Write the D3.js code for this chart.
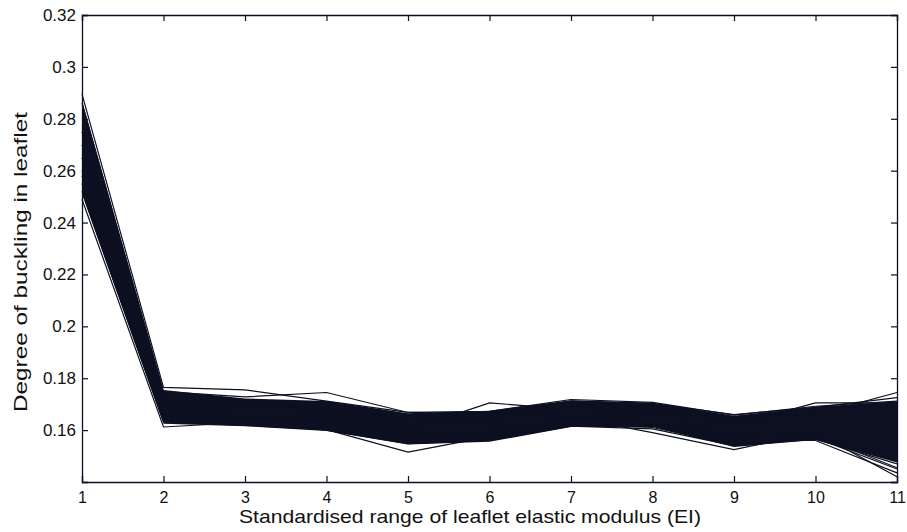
<!DOCTYPE html>
<html>
<head>
<meta charset="utf-8">
<script src="https://cdn.jsdelivr.net/npm/d3@7"></script>
<style>
  body { margin: 0; background: #fff; }
  text { font-family: "Liberation Sans", Arial, sans-serif; fill: #111; }
</style>
</head>
<body>
<div id="chart"></div>
<script>
// x positions (standardised EI range)
var xValues = [1, 2, 3, 4, 5, 6, 7, 8, 9, 10, 11]
var yTicks = [0.14, 0.16, 0.18, 0.2, 0.22, 0.24, 0.26, 0.28, 0.3, 0.32]

// dense core of the runs (upper / lower envelope)
var coreUpper = [0.287, 0.1755, 0.1722, 0.1712, 0.1665, 0.1675, 0.1715, 0.1705, 0.1655, 0.169, 0.171]
var coreLower = [0.251, 0.1625, 0.1615, 0.1597, 0.1545, 0.1555, 0.1612, 0.1612, 0.1535, 0.1562, 0.1475]

// individual runs visible at the edges of the band
var runA = [0.2895, 0.1765, 0.1755, 0.1712, 0.1668, 0.1672, 0.1718, 0.1707, 0.1658, 0.1692, 0.1712]
var runB = [0.2860, 0.1748, 0.1728, 0.1745, 0.1668, 0.1662, 0.1712, 0.1702, 0.1660, 0.1688, 0.1725]
var runC = [0.2490, 0.1612, 0.1630, 0.1600, 0.1548, 0.1560, 0.1615, 0.1605, 0.1540, 0.1565, 0.1470]
var runD = [0.2520, 0.1632, 0.1618, 0.1602, 0.1515, 0.1575, 0.1620, 0.1610, 0.1545, 0.1570, 0.1450]
var runE = [0.2650, 0.1700, 0.1690, 0.1665, 0.1600, 0.1705, 0.1680, 0.1662, 0.1580, 0.1620, 0.1560]
var runF = [0.2600, 0.1680, 0.1660, 0.1640, 0.1590, 0.1600, 0.1650, 0.1590, 0.1525, 0.1590, 0.1420]
var runG = [0.2700, 0.1720, 0.1700, 0.1680, 0.1620, 0.1640, 0.1690, 0.1680, 0.1620, 0.1705, 0.1705]
var runH = [0.2550, 0.1650, 0.1640, 0.1620, 0.1560, 0.1580, 0.1630, 0.1620, 0.1560, 0.1560, 0.1435]
var runI = [0.2750, 0.1710, 0.1700, 0.1690, 0.1640, 0.1650, 0.1700, 0.1690, 0.1640, 0.1660, 0.1745]
var runJ = [0.2580, 0.1660, 0.1650, 0.1630, 0.1570, 0.1590, 0.1640, 0.1630, 0.1570, 0.1580, 0.1455]
var runs = [runA, runB, runC, runD, runE, runF, runG, runH, runI, runJ]

var xLabel = "Standardised range of leaflet elastic modulus (EI)"
var yLabel = "Degree of buckling in leaflet"

var width = 907, height = 532
var margin = {top: 15, right: 10, bottom: 50, left: 82}

var svg = d3.select("#chart").append("svg")
  .attr("width", width)
  .attr("height", height)

var x = d3.scaleLinear().domain([1, 11]).range([margin.left, width - margin.right])
var y = d3.scaleLinear().domain([0.14, 0.32]).range([height - margin.bottom, margin.top])

var ink = "#0c1020"

// core band
var area = d3.area()
  .x(function(d, i) { return x(xValues[i]) })
  .y0(function(d, i) { return y(coreLower[i]) })
  .y1(function(d) { return y(d) })
svg.append("path")
  .datum(coreUpper)
  .attr("d", area)
  .attr("fill", ink)

var line = d3.line()
  .x(function(d, i) { return x(xValues[i]) })
  .y(function(d) { return y(d) })

svg.selectAll(".run")
  .data(runs)
  .enter()
  .append("path")
  .attr("class", "run")
  .attr("d", line)
  .attr("fill", "none")
  .attr("stroke", ink)
  .attr("stroke-width", 1.2)

// axes, MATLAB style box with inward ticks
var fmt = function(d) { return d == 0.14 ? "" : String(+d.toFixed(2)) }

svg.append("g")
  .attr("transform", "translate(0," + y(0.14) + ")")
  .call(d3.axisBottom(x).tickValues(xValues).tickSize(-6).tickPadding(10))
  .selectAll("text").attr("font-size", 16)
svg.append("g")
  .attr("transform", "translate(0," + y(0.32) + ")")
  .call(d3.axisTop(x).tickValues(xValues).tickSize(-6).tickFormat(""))
svg.append("g")
  .attr("transform", "translate(" + x(1) + ",0)")
  .call(d3.axisLeft(y).tickValues(yTicks).tickSize(-6).tickPadding(6).tickFormat(fmt))
  .selectAll("text").attr("font-size", 17)
svg.append("g")
  .attr("transform", "translate(" + x(11) + ",0)")
  .call(d3.axisRight(y).tickValues(yTicks).tickSize(-6).tickFormat(""))

svg.selectAll(".domain").attr("stroke", ink).attr("stroke-width", 1.3)
svg.selectAll(".tick line").attr("stroke", ink).attr("stroke-width", 1.2)
svg.selectAll(".tick text")
  .attr("font-family", "Liberation Sans, Arial, sans-serif")
  .attr("fill", "#111")

svg.append("text")
  .attr("x", 470)
  .attr("y", 523)
  .attr("text-anchor", "middle")
  .attr("font-size", 19)
  .attr("textLength", 462)
  .attr("lengthAdjust", "spacingAndGlyphs")
  .text(xLabel)

svg.append("text")
  .attr("transform", "translate(27,262) rotate(-90)")
  .attr("text-anchor", "middle")
  .attr("font-size", 19)
  .attr("textLength", 300)
  .attr("lengthAdjust", "spacingAndGlyphs")
  .text(yLabel)
</script>
</body>
</html>
